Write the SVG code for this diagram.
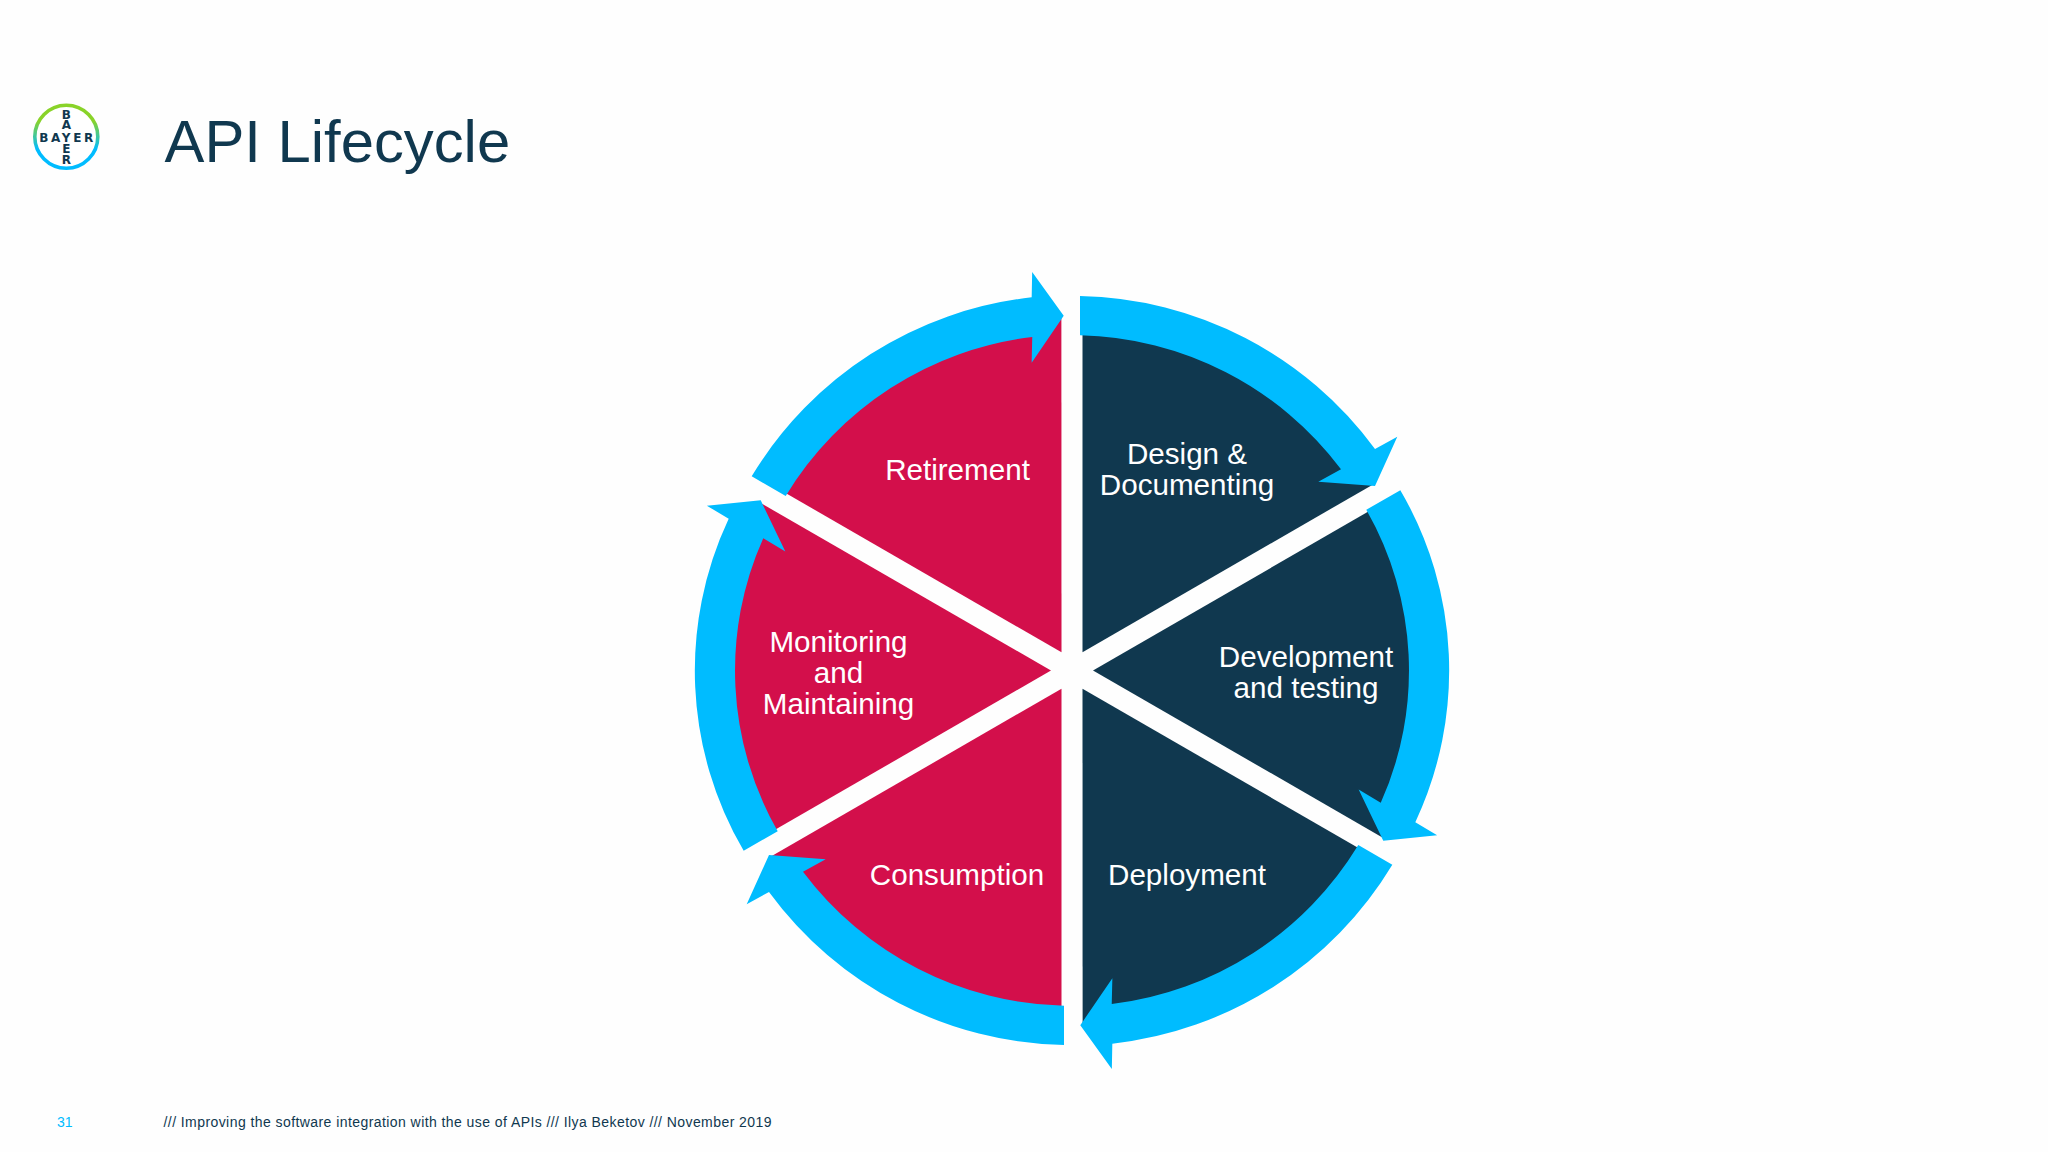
<svg xmlns="http://www.w3.org/2000/svg" width="2048" height="1152" viewBox="0 0 2048 1152">
<style>
text{font-family:"Liberation Sans",Arial,sans-serif}
.lbl{font-size:29.6px;fill:#fff;text-anchor:middle}
.dark{fill:#10384f}
.red{fill:#d30f4b}
.arrow{fill:#00bcff}
.logo{font-family:"DejaVu Sans",sans-serif;font-size:12px;font-weight:700;fill:#10384f;text-anchor:middle}
</style>
<defs>
<linearGradient id="ring" x1="0" y1="0" x2="0" y2="1"><stop offset="0.25" stop-color="#89d329"/><stop offset="0.7" stop-color="#00bcff"/></linearGradient>
<path id="slice" d="M1082.5 652.3L1082.5 316.66A354 354 0 0 1 1373.1 484.4Z"/>
<path id="arc" d="M1080 296A374.5 374.5 0 0 1 1375 449L1397.3 436.7L1375 486L1318.3 481.7L1341 469.3A335.5 335.5 0 0 0 1080 335.3Z"/>
<path id="arcwide" d="M1080 296A357 357 0 0 1 1375 449L1397.3 436.7L1375 486L1318.3 481.7L1341 469.3A324 324 0 0 0 1080 335.3Z"/>
</defs>
<rect width="2048" height="1152" fill="#fefefe"/>
<g id="logo">
<circle cx="66.3" cy="136.7" r="31.5" fill="#fff" stroke="url(#ring)" stroke-width="3.6"/>
<text class="logo" x="66.3" y="141.5" textLength="54" lengthAdjust="spacing">BAYER</text>
<text class="logo"><tspan x="66.3" y="118.5">B</tspan><tspan x="66.3" y="129">A</tspan><tspan x="66.3" y="153">E</tspan><tspan x="66.3" y="164">R</tspan></text>
</g>
<text id="title" x="164.5" y="162" font-size="59.8" fill="#10384f">API Lifecycle</text>
<g id="design"><use href="#slice" class="dark"/><text class="lbl"><tspan x="1187" y="464">Design &amp;</tspan><tspan x="1187" y="495">Documenting</tspan></text></g>
<g id="development"><use href="#slice" class="dark" transform="rotate(60 1072 670.5)"/><text class="lbl"><tspan x="1306" y="667">Development</tspan><tspan x="1306" y="698">and testing</tspan></text></g>
<g id="deployment"><use href="#slice" class="dark" transform="rotate(120 1072 670.5)"/><text class="lbl" x="1187" y="885">Deployment</text></g>
<g id="consumption"><use href="#slice" class="red" transform="rotate(180 1072 670.5)"/><text class="lbl" x="957" y="885">Consumption</text></g>
<g id="monitoring"><use href="#slice" class="red" transform="rotate(240 1072 670.5)"/><text class="lbl"><tspan x="838.5" y="652">Monitoring</tspan><tspan x="838.5" y="683">and</tspan><tspan x="838.5" y="714">Maintaining</tspan></text></g>
<g id="retirement"><use href="#slice" class="red" transform="rotate(300 1072 670.5)"/><text class="lbl" x="957.5" y="480">Retirement</text></g>
<g id="connectors" class="arrow">
<use href="#arc"/>
<use href="#arcwide" transform="rotate(60 1072 670.5)"/>
<use href="#arc" transform="rotate(120 1072 670.5)"/>
<use href="#arc" transform="rotate(180 1072 670.5)"/>
<use href="#arcwide" transform="rotate(240 1072 670.5)"/>
<use href="#arc" transform="rotate(300 1072 670.5)"/>
</g>
<text id="page" x="57" y="1127" font-size="14" fill="#00bcff">31</text>
<text id="footer" x="163.5" y="1127" font-size="14" fill="#10384f" textLength="608" lengthAdjust="spacing">/// Improving the software integration with the use of APIs /// Ilya Beketov /// November 2019</text>
</svg>
